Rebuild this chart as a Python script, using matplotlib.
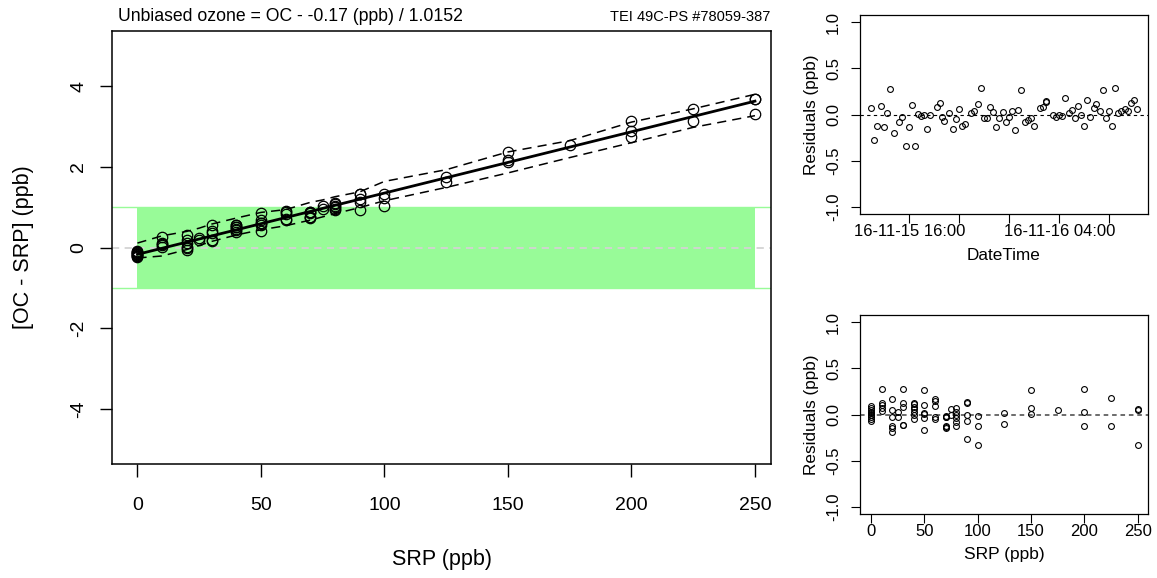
import numpy as np
import pandas as pd
import matplotlib
matplotlib.use("Agg")
import matplotlib.pyplot as plt
import matplotlib.dates as mdates
from matplotlib.patches import Rectangle

plt.rcParams['font.family'] = ['Liberation Sans', 'DejaVu Sans']
plt.rcParams['axes.unicode_minus'] = False

W, H = 1157, 578

# calibration result printed in the title
INTERCEPT = -0.17
SLOPE = 1.0152
TOLERANCE = 1.0

# residuals grouped by SRP level
srp_levels = [0, 10, 20, 25, 30, 40, 50, 60, 70, 75, 80, 90, 100, 125, 150, 175, 200, 225, 250]
resid_by_level = [
    [0.09, 0.07, 0.05, 0.03, 0.02, 0.0, -0.01, -0.03, -0.05, -0.07],
    [0.28, 0.12, 0.10, 0.07, 0.04],
    [0.17, 0.05, -0.03, -0.12, -0.15, -0.19],
    [0.03, -0.03],
    [0.28, 0.13, 0.08, -0.11, -0.115],
    [0.13, 0.11, 0.08, 0.06, 0.03, 0.0, -0.05],
    [0.27, 0.10, 0.02, 0.01, -0.04, -0.17],
    [0.17, 0.15, 0.09, -0.03, -0.05],
    [-0.02, -0.025, -0.03, -0.13, -0.14, -0.15],
    [0.06, -0.01],
    [0.07, 0.03, -0.01, -0.04, -0.08, -0.12],
    [0.14, 0.12, 0.0, -0.07, -0.27],
    [-0.02, -0.12, -0.33],
    [0.02, -0.10],
    [0.27, 0.07, 0.01],
    [0.05],
    [0.28, 0.03, -0.12],
    [0.18, -0.12],
    [0.06, 0.05, -0.33],
]

# dashed band around the fit, per SRP level
band_upper = [0.11, 0.29, 0.40, 0.48, 0.58, 0.73, 0.87, 0.94, 1.12, 1.18, 1.26, 1.38,
              1.64, 1.93, 2.37, 2.65, 3.11, 3.44, 3.80]
band_lower = [-0.26, -0.21, -0.05, 0.05, 0.15, 0.31, 0.44, 0.54, 0.68, 0.76, 0.84, 0.99,
              1.16, 1.49, 1.85, 2.23, 2.60, 2.98, 3.27]

# residuals in time order (upper-right panel)
day1_times = ["12:56", "13:12", "13:26", "13:44", "13:58", "14:13", "14:26", "14:45", "15:12",
              "15:26", "15:44", "15:58", "16:13", "16:29", "16:42", "16:56", "17:12", "17:26",
              "17:41", "18:11", "18:26", "18:38", "18:44", "19:12", "19:30", "19:44", "19:58",
              "20:13", "20:29", "20:58", "21:12", "21:28", "21:42", "21:57", "22:14", "22:29",
              "22:43", "22:58", "23:12", "23:30", "23:44", "23:58"]
day2_times = ["00:11", "00:29", "00:43", "00:58", "01:15", "01:30", "01:44", "01:58", "02:27",
              "02:42", "02:54", "02:58", "03:28", "03:42", "03:58", "04:14", "04:29", "04:45",
              "04:59", "05:15", "05:30", "05:42", "05:58", "06:14", "06:29", "06:46", "06:58",
              "07:15", "07:28", "07:42", "07:58", "08:13", "08:29", "08:43", "08:58", "09:14",
              "09:30", "09:46", "09:57", "10:11"]
time_resid = [0.072, -0.272, -0.12, 0.087, -0.138, 0.011, 0.272, -0.199, -0.08, -0.022,
              -0.337, -0.138, 0.098, -0.337, 0.004, -0.014, -0.004, -0.159, -0.004, 0.083,
              0.12, -0.022, -0.069, 0.011, -0.156, -0.047, 0.058, -0.127, -0.105, 0.018,
              0.033, 0.112, 0.286, -0.043, -0.033, 0.08, 0.025, -0.134, -0.04, 0.029,
              -0.083, -0.022,
              0.033, -0.167, 0.051, 0.264, -0.08, -0.062, -0.04, -0.12, 0.072, 0.08,
              0.134, 0.149, 0.0, -0.022, 0.0, -0.014, 0.174, 0.011, 0.047, -0.04,
              0.094, -0.007, -0.12, 0.159, -0.022, 0.072, 0.109, 0.043, 0.261, -0.036,
              0.033, -0.12, 0.286, 0.018, 0.043, 0.065, 0.033, 0.127, 0.159, 0.065]

# flatten
srp = np.array([lv for lv, rs in zip(srp_levels, resid_by_level) for _ in rs], dtype=float)
resid = np.array([r for rs in resid_by_level for r in rs])
fit_srp = INTERCEPT + (SLOPE - 1) * srp
diff = fit_srp + resid

times = pd.to_datetime(["2016-11-15 " + t for t in day1_times] +
                       ["2016-11-16 " + t for t in day2_times])

fig = plt.figure(figsize=(W / 100, H / 100), dpi=100)

# ---- main panel
ax = fig.add_axes([112 / W, 1 - 464 / H, 659 / W, 433 / H])
lo, hi = min(srp_levels), max(srp_levels)
ax.add_patch(Rectangle((lo, -TOLERANCE), hi - lo, 2 * TOLERANCE, facecolor='palegreen',
                       edgecolor='none', zorder=1))
ax.axhline(TOLERANCE, color='palegreen', lw=1, zorder=1)
ax.axhline(-TOLERANCE, color='palegreen', lw=1, zorder=1)
ax.axhline(0, color='lightgray', ls=(0, (4, 3)), lw=1.3, zorder=2)
ax.plot(srp, diff, 'o', mfc='none', mec='black', ms=7.5, mew=0.9, zorder=3)
xs = np.array([lo, hi], dtype=float)
ax.plot(xs, INTERCEPT + (SLOPE - 1) * xs, color='black', lw=2, zorder=4)
ax.plot(srp_levels, band_upper, color='black', ls=(0, (6, 4)), lw=1.1, zorder=4)
ax.plot(srp_levels, band_lower, color='black', ls=(0, (6, 4)), lw=1.1, zorder=4)
ax.set_xlim(-10.3, 256.5)
ax.set_ylim(-5.37, 5.37)
ax.set_xticks([0, 50, 100, 150, 200, 250])
ax.set_yticks([-4, -2, 0, 2, 4])
ax.tick_params(axis='both', labelsize=14, length=9, width=1)
ax.tick_params(axis='x', pad=15)
ax.tick_params(axis='y', pad=9, labelrotation=90)
for lab in ax.get_yticklabels():
    lab.set_va('center')
for s in ax.spines.values():
    s.set_linewidth(1.1)
ax.set_xlabel("SRP (ppb)", fontsize=15.5, va='center')
ax.xaxis.set_label_coords(0.5, (464 - 560) / 433)
ax.set_ylabel("[OC - SRP] (ppb)", fontsize=15.5, va='center')
ax.yaxis.set_label_coords((23 - 112) / 659, 0.5)

fig.text(118 / W, 1 - 21 / H, "Unbiased ozone = OC - %.2f (ppb) / %.4f" % (INTERCEPT, SLOPE),
         fontsize=12.7, ha='left', va='baseline')
fig.text(770 / W, 1 - 21 / H, "TEI 49C-PS #78059-387", fontsize=10.5, ha='right', va='baseline')


def resid_axes(rect):
    a = fig.add_axes(rect)
    a.set_ylim(-1.08, 1.08)
    a.set_yticks([-1.0, -0.5, 0.0, 0.5, 1.0])
    a.set_yticklabels(["-1.0", "-0.5", "0.0", "0.5", "1.0"])
    a.tick_params(axis='both', labelsize=12, length=6.5, width=0.8)
    a.tick_params(axis='x', pad=0.5)
    a.tick_params(axis='y', pad=7, labelrotation=90)
    for lab in a.get_yticklabels():
        lab.set_va('center')
    for s in a.spines.values():
        s.set_linewidth(0.9)
    a.set_ylabel("Residuals (ppb)", fontsize=12.3, va='center')
    a.yaxis.set_label_coords((812 - 860) / 288, 0.5)
    return a


# ---- residuals vs time
ax2 = resid_axes([860 / W, 1 - 214 / H, 288 / W, 199 / H])
ax2.axhline(0, color='black', ls=(0, (3, 3)), lw=0.8)
ax2.plot(times, time_resid, 'o', mfc='none', mec='black', ms=4.2, mew=0.8)
ax2.set_xlim(pd.Timestamp("2016-11-15 12:03"), pd.Timestamp("2016-11-16 11:06"))
tick_times = pd.to_datetime(["2016-11-15 16:00", "2016-11-15 20:00", "2016-11-16 00:00",
                             "2016-11-16 04:00", "2016-11-16 08:00"])
ax2.set_xticks(tick_times)
ax2.set_xticklabels(["16-11-15 16:00", "", "", "16-11-16 04:00", ""])
ax2.set_xlabel("DateTime", fontsize=12.3, va='center')
ax2.xaxis.set_label_coords(0.5, (214 - 255) / 199)

# ---- residuals vs SRP
ax3 = resid_axes([860 / W, 1 - 514 / H, 288 / W, 199 / H])
ax3.axhline(0, color='#444444', ls=(0, (3, 2.5)), lw=1.1)
ax3.plot(srp, resid, 'o', mfc='none', mec='black', ms=4.2, mew=0.8)
ax3.set_xlim(-10.3, 259.6)
ax3.set_xticks([0, 50, 100, 150, 200, 250])
ax3.set_xlabel("SRP (ppb)", fontsize=12.5, va='center')
ax3.xaxis.set_label_coords(0.5, (514 - 554) / 199)

fig.savefig("out.png", dpi=100)
